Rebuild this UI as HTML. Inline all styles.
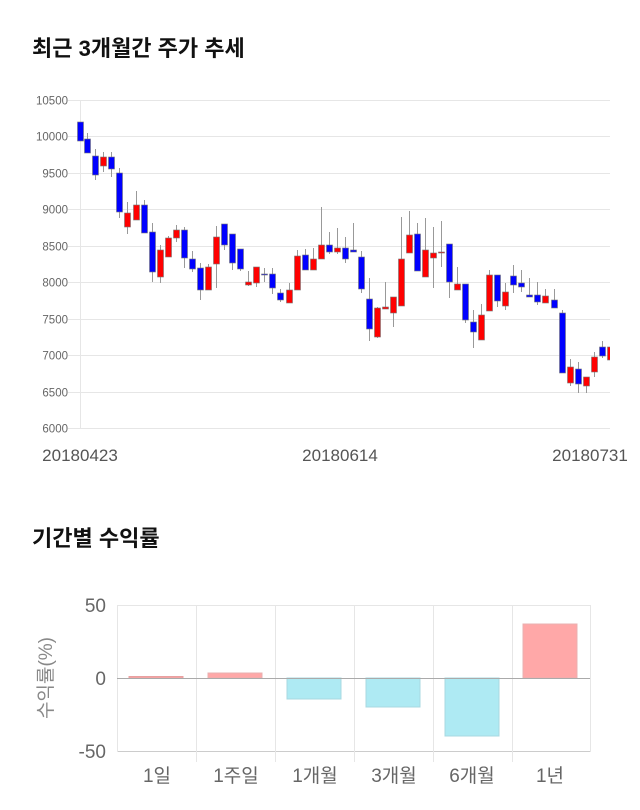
<!DOCTYPE html>
<html><head><meta charset="utf-8"><style>
body{margin:0;background:#fff;width:640px;height:810px;overflow:hidden}
svg{display:block}
text{font-family:"Liberation Sans","Noto Sans CJK KR",sans-serif}
</style></head><body>
<svg id="s" width="640" height="810" xmlns="http://www.w3.org/2000/svg">
<text x="32" y="56" font-size="22" font-weight="bold" fill="#111">최근 3개월간 주가 추세</text>
<g id="grid" stroke="#e6e6e6" stroke-width="1"></g>
<line x1="80.5" y1="100" x2="80.5" y2="428" stroke="#e6e6e6"/>
<g id="ticks" font-size="11.5" fill="#666" text-anchor="end"></g>
<g id="candles"></g>
<g font-size="17" fill="#555" text-anchor="middle">
<text x="80" y="461">20180423</text><text x="340" y="461">20180614</text><text x="590" y="461">20180731</text>
</g>
<text x="32" y="546" font-size="22" font-weight="bold" fill="#111">기간별 수익률</text>
<g stroke="#e6e6e6">
<line x1="117" y1="605.5" x2="590" y2="605.5"/><line x1="117" y1="751.5" x2="590" y2="751.5" stroke="#ccc"/>
<line x1="117.5" y1="605" x2="117.5" y2="752"/>
<line x1="196.5" y1="605" x2="196.5" y2="762"/><line x1="275.5" y1="605" x2="275.5" y2="762"/>
<line x1="354.5" y1="605" x2="354.5" y2="762"/><line x1="433.5" y1="605" x2="433.5" y2="762"/>
<line x1="512.5" y1="605" x2="512.5" y2="762"/><line x1="590.5" y1="605" x2="590.5" y2="752"/>
</g>
<g stroke-width="1">
<rect x="129" y="676.5" width="54" height="1.5" fill="#ffa8a8" stroke="#e8a0a0"/>
<rect x="208" y="673" width="54" height="5" fill="#ffa8a8" stroke="#e8b0b0"/>
<rect x="287" y="678" width="54" height="21" fill="#aeeaf3" stroke="#a8d8e0"/>
<rect x="366" y="678" width="54" height="29" fill="#aeeaf3" stroke="#a8d8e0"/>
<rect x="445" y="678" width="54" height="58" fill="#aeeaf3" stroke="#a8d8e0"/>
<rect x="523" y="624" width="54" height="54" fill="#ffa8a8" stroke="#e8b0b0"/>
</g>
<line x1="117" y1="678.5" x2="590" y2="678.5" stroke="#aaa"/>
<g font-size="19" fill="#666" text-anchor="end">
<text x="106" y="612">50</text><text x="106" y="685">0</text><text x="106" y="758">-50</text>
</g>
<text transform="translate(52,678) rotate(-90)" font-size="19" fill="#888" text-anchor="middle">수익률(%)</text>
<g font-size="19" fill="#666" text-anchor="middle">
<text x="157" y="782">1일</text><text x="236" y="782">1주일</text><text x="315" y="782">1개월</text>
<text x="394" y="782">3개월</text><text x="472" y="782">6개월</text><text x="550" y="782">1년</text>
</g>
</svg>
<script>
var NS="http://www.w3.org/2000/svg";
function el(p,t,a){var e=document.createElementNS(NS,t);for(var k in a)e.setAttribute(k,a[k]);p.appendChild(e);return e;}
var g=document.getElementById('grid'),tk=document.getElementById('ticks');
for(var i=0;i<=9;i++){var y=100+i*328/9;var yy=Math.round(y)+0.5;
el(g,'line',{x1:68,x2:610,y1:yy,y2:yy});
var t=el(tk,'text',{x:68,y:yy+4});t.textContent=(10500-500*i);}
var d=[[80,122,141,122,141,'b'],[87,139,153,133,153,'b'],[95,156,175,149,180,'b'],[103,157,166,152,172,'r'],[111,157,169,152,177,'b'],
[119,173,212,168,218,'b'],[127,213,227,202,234,'r'],[136,205,220,191,220,'r'],[144,205,233,200,233,'b'],[152,232,272,223,282,'b'],
[160,250,277,245,283,'r'],[168,238,257,236,257,'r'],[176,230,238,225,242,'r'],[184,230,258,227,268,'b'],[192,259,269,251,272,'b'],
[200,268,290,263,300,'b'],[208,267,290,264,290,'r'],[216,237,264,226,288,'r'],[224,224,245,224,250,'b'],[232,234,263,234,270,'b'],
[240,249,269,249,271,'b'],[248,282,285,271,286,'r'],[256,267,283,267,287,'r'],[264,274,275,268,282,'b'],[272,274,288,268,294,'b'],
[280,293,300,289,302,'b'],[289,290,303,283,303,'r'],[297,256,290,250,290,'r'],[305,255,270,249,270,'b'],[313,259,270,248,270,'r'],
[321,245,259,207,259,'r'],[329,245,252,232,254,'b'],[337,248,252,228,254,'r'],[345,248,259,237,263,'b'],[353,250,252,223,252,'b'],
[361,257,289,251,293,'b'],[369,299,329,278,341,'b'],[377,308,337,307,338,'r'],[385,307,309,282,309,'r'],[393,297,313,297,327,'r'],
[401,259,306,217,306,'r'],[409,235,253,211,253,'r'],[417,234,271,223,271,'b'],[425,250,277,218,277,'r'],[433,253,258,227,288,'r'],
[441,252,253,221,267,'r'],[449,244,282,244,298,'b'],[457,284,290,267,290,'r'],[465,284,320,284,323,'b'],[473,322,332,310,348,'b'],
[481,315,340,304,340,'r'],[489,275,311,270,311,'r'],[497,275,301,275,307,'b'],[505,292,306,283,310,'r'],[513,276,285,265,293,'b'],
[521,283,287,270,292,'b'],[529,295,297,278,297,'b'],[537,295,302,282,305,'b'],[545,296,303,289,303,'r'],[554,300,308,289,308,'b'],
[562,313,373,310,373,'b'],[570,367,383,359,386,'r'],[578,369,384,362,393,'b'],[586,377,386,377,393,'r'],[594,357,372,352,377,'r'],
[602,347,356,341,358,'b'],[610,347,360,347,360,'r']];
var c=document.getElementById('candles');
var cp=el(document.getElementById('s'),'clipPath',{id:'cp'});el(cp,'rect',{x:77,y:90,width:533,height:345});
c.setAttribute('clip-path','url(#cp)');
d.forEach(function(k){
el(c,'line',{x1:k[0]+0.5,x2:k[0]+0.5,y1:k[3],y2:k[4],stroke:'#999','stroke-width':1});
var h=Math.max(1,k[2]-k[1]);
el(c,'rect',{x:k[0]-2.5,y:k[1],width:6,height:h,fill:k[5]=='b'?'#0000ff':'#ff0000',stroke:'#777','stroke-width':0.6});
});
</script>
</body></html>
